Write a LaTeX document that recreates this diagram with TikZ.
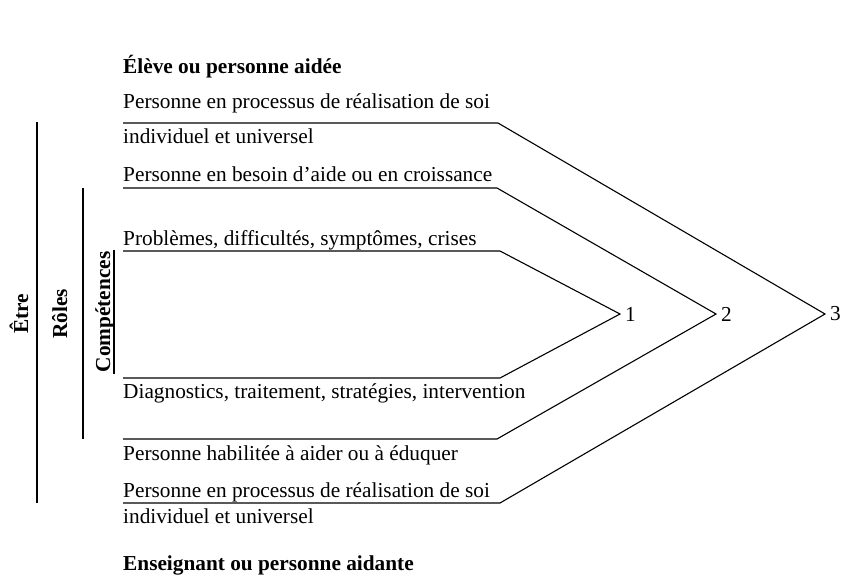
\documentclass[tikz,border=0pt]{standalone}
\usepackage{fontspec}
\setmainfont{Liberation Serif}
\usetikzlibrary{positioning}

\begin{document}
\begin{tikzpicture}[x=1pt,y=-1pt,
  every node/.style={inner sep=0pt,font=\fontsize{21.3}{25}\selectfont},
  txt/.style={anchor=base west},
  head/.style={anchor=base west,font=\fontsize{21.3}{25}\selectfont\bfseries},
  vlab/.style={rotate=90,anchor=base,font=\fontsize{21.3}{25}\selectfont\bfseries},
  link/.style={line width=1.1pt},
  bar/.style={line width=2pt}]

 \useasboundingbox (0,0) rectangle (842,578);

 % tips of the three chevrons
 \coordinate (V1) at (620,314);
 \coordinate (V2) at (716,314);
 \coordinate (V3) at (825,314);

 % start and bend of each underline
 \coordinate (A3t) at (123,123); \coordinate (B3t) at (498,123);
 \coordinate (A2t) at (123,188); \coordinate (B2t) at (497,188);
 \coordinate (A1t) at (123,251); \coordinate (B1t) at (500,251);
 \coordinate (A1b) at (123,378); \coordinate (B1b) at (500,378);
 \coordinate (A2b) at (123,439); \coordinate (B2b) at (497,439);
 \coordinate (A3b) at (123,503); \coordinate (B3b) at (500,503);

 % texts of the person helped (top) and the helper (bottom)
 \node[head] (Eleve) at (123,74) {Élève ou personne aidée};
 \node[txt] (RealTop) at (123,108) {Personne en processus de réalisation de soi};
 \node[txt] (UnivTop) at (123,143) {individuel et universel};
 \node[txt] (Besoin) at (123,181) {Personne en besoin d’aide ou en croissance};
 \node[txt] (Probl) at (123,245) {Problèmes, difficultés, symptômes, crises};
 \node[txt] (Diagn) at (123,398) {Diagnostics, traitement, stratégies, intervention};
 \node[txt] (Habil) at (123,460) {Personne habilitée à aider ou à éduquer};
 \node[txt] (RealBot) at (123,497) {Personne en processus de réalisation de soi};
 \node[txt] (UnivBot) at (123,523) {individuel et universel};
 \node[head] (Ensei) at (123,570) {Enseignant ou personne aidante};

 % the chevrons
 \draw[link] (A1t) -- (B1t) -- (V1) -- (B1b) -- (A1b);
 \draw[link] (A2t) -- (B2t) -- (V2) -- (B2b) -- (A2b);
 \draw[link] (A3t) -- (B3t) -- (V3) -- (B3b) -- (A3b);

 % level numbers
 \node[right=5pt of V1] (N1) {1};
 \node[right=5pt of V2] (N2) {2};
 \node[right=5pt of V3] (N3) {3};

 % levels on the left side
 \node[vlab] (Etre) at (28,314) {Être};
 \node[vlab] (Roles) at (67,314) {Rôles};
 \node[vlab] (Compet) at (110,312) {Compétences};
 \draw[bar] (37,122) -- (37,503);
 \draw[bar] (83,188) -- (83,439);
 \draw[bar] (114,250) -- (114,374);

\end{tikzpicture}
\end{document}
